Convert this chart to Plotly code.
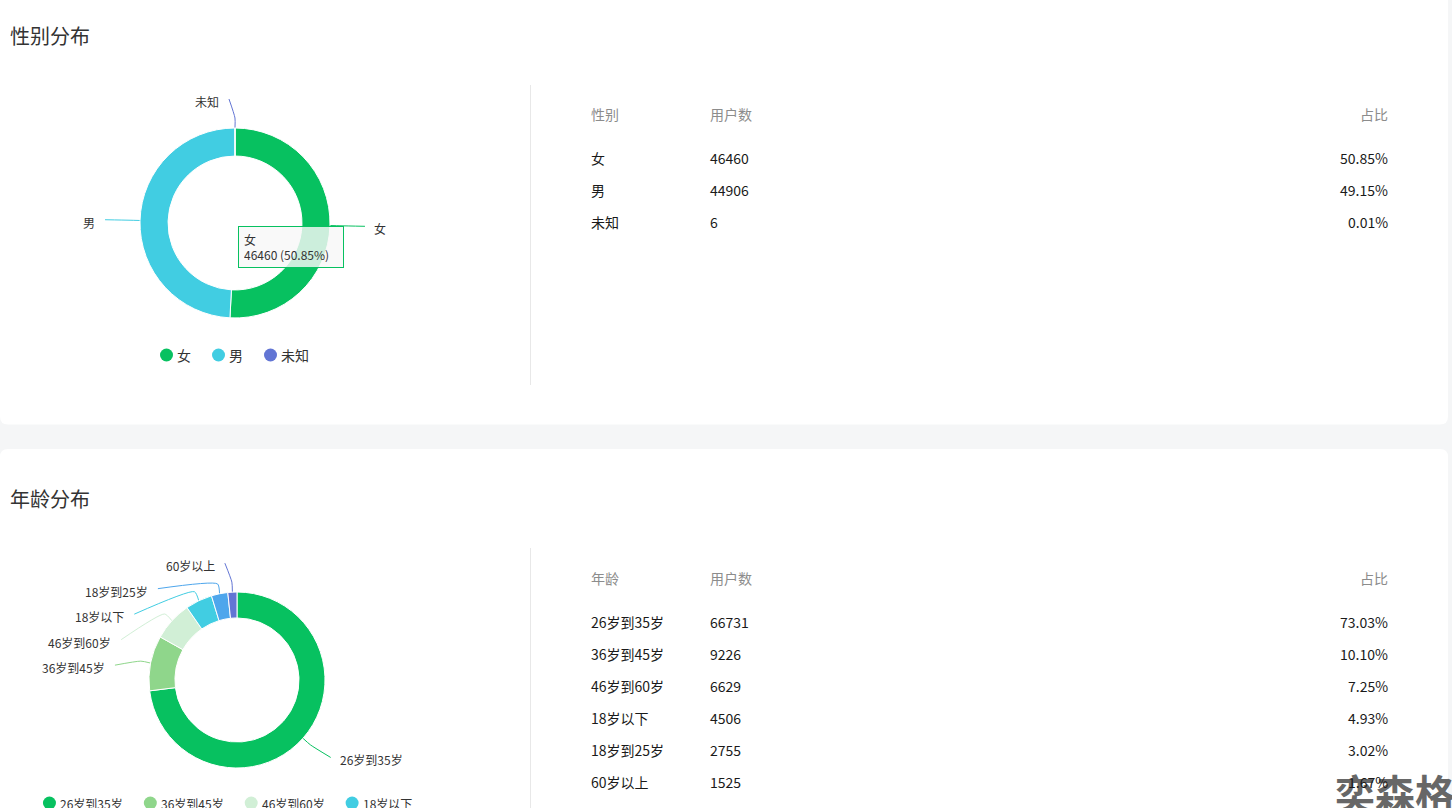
import math
import plotly.graph_objects as go

W, H = 1452, 808
FONT = "Noto Sans CJK SC, Microsoft YaHei, sans-serif"

# ---------------- data ----------------
section_titles = ["性别分布", "年龄分布"]

gender_headers = ["性别", "用户数", "占比"]
gender_labels = ["女", "男", "未知"]
gender_values = [46460, 44906, 6]
gender_colors = ["#07c160", "#41cde2", "#6275d4"]

age_headers = ["年龄", "用户数", "占比"]
age_labels = ["26岁到35岁", "36岁到45岁", "46岁到60岁", "18岁以下", "18岁到25岁", "60岁以上"]
age_values = [66731, 9226, 6629, 4506, 2755, 1525]
age_colors = ["#07c160", "#8fd68b", "#d1efd6", "#41cde2", "#4ea6ec", "#6275d4"]

tooltip_index = 0
watermark = "奕森格"

# ---------------- layout constants ----------------
BG = "#f5f6f7"
TXT = "#333333"
HEAD = "#8c8c8c"
LEN1, LEN2, GAP, BEND = 29, 6, 25.5, 10
LPAD, RPAD = 3, 2   # annotation inner offsets (left / right anchored)


def pct(values):
    t = sum(values)
    return [f"{v / t * 100:.2f}%" for v in values]


def text_w(s, fs):
    w = 0
    for ch in s:
        if ord(ch) > 0x2E80:
            w += fs
        elif ch == ".":
            w += fs * 0.27
        elif ch == "%":
            w += fs * 0.85
        else:
            w += fs * 0.56
    return w


fig = go.Figure()
shapes = []
annots = []


def txt(x, y, text, size, color, anchor="left", **kw):
    if anchor == "left":
        x = x - LPAD
    elif anchor == "right":
        x = x + RPAD
    d = dict(x=x, y=y, xref="x", yref="y", xanchor=anchor, yanchor="middle", text=text,
             showarrow=False, font=dict(family=FONT, size=size, color=color))
    d.update(kw)
    annots.append(d)


def rounded(x0, y0, x1, y1, r):
    return (f"M{x0 + r},{y0} L{x1 - r},{y0} Q{x1},{y0} {x1},{y0 + r} L{x1},{y1 - r} "
            f"Q{x1},{y1} {x1 - r},{y1} L{x0 + r},{y1} Q{x0},{y1} {x0},{y1 - r} "
            f"L{x0},{y0 + r} Q{x0},{y0} {x0 + r},{y0} Z")


# cards
for (y0, y1) in [(-10, 424.5), (449, 830)]:
    shapes.append(dict(type="path", path=rounded(0, y0, 1448, y1, 8), xref="x", yref="y",
                       fillcolor="white", line=dict(width=0), layer="below"))
# dividers
for (y0, y1) in [(85, 385), (548, 830)]:
    shapes.append(dict(type="line", x0=530.5, x1=530.5, y0=y0, y1=y1, xref="x", yref="y",
                       line=dict(color="#e8e8e8", width=1), layer="below"))

# watermark (drawn first so other text sits on top)
annots.append(dict(x=1457 / W, y=1 - 792 / H, xref="paper", yref="paper", xanchor="right",
                   yanchor="middle", text=f"<b>{watermark}</b>", showarrow=False,
                   font=dict(family=FONT, size=40, color="#676767")))


def add_section(title, title_y, headers, labels, values, colors, cx, cy, R,
                head_y, row0, legend_y, legend_fs, legend_cx):
    txt(11, title_y, title, 20, TXT)
    # donut
    fig.add_trace(go.Pie(
        labels=labels, values=values, sort=False, direction="clockwise", rotation=0,
        hole=0.705, textinfo="none", showlegend=False,
        marker=dict(colors=colors, line=dict(color="white", width=1)),
        domain=dict(x=[(cx - R) / W, (cx + R) / W], y=[1 - (cy + R) / H, 1 - (cy - R) / H]),
        hovertemplate="%{label}<br>%{value} (%{percent})<extra></extra>"))

    # outside labels with leader lines (ECharts-like layout)
    total = sum(values)
    rA = R + LEN1
    items = []
    cum = 0
    for i, v in enumerate(values):
        a = (cum + v / 2) / total * 2 * math.pi
        cum += v
        s, c = math.sin(a), math.cos(a)
        p0 = (cx + R * s, cy - R * c)
        pb = (cx + (R + BEND) * s, cy - (R + BEND) * c)
        p1 = (cx + rA * s, cy - rA * c)
        items.append(dict(i=i, p0=p0, pb=pb, p1=p1, y=p1[1], side=1 if s >= 0 else -1))
    for side in (1, -1):
        grp = sorted([it for it in items if it["side"] == side], key=lambda it: it["y"])
        for a_, b_ in zip(grp, grp[1:]):
            if b_["y"] < a_["y"] + GAP:
                b_["y"] = a_["y"] + GAP
        for top in (True, False):
            semi = [it for it in grp if (it["y"] <= cy) == top]
            if not semi:
                continue
            far = max(semi, key=lambda it: abs(it["y"] - cy))
            dy = abs(far["y"] - cy)
            dx = abs(far["p1"][0] - cx)
            rB = math.sqrt(dy * dy / (1 - dx * dx / rA / rA)) if dx < rA - 1e-6 else rA
            rB = max(rB, 1e-6)
            for it in semi:
                dyi = abs(it["y"] - cy)
                dxi = math.sqrt(max(0.0, 1 - dyi * dyi / (rB * rB))) * rA
                it["end"] = (cx + side * (dxi + LEN2), it["y"])
    for it in items:
        p0, pb, end = it["p0"], it["pb"], it["end"]
        col = colors[it["i"]]
        fig.add_trace(go.Scatter(x=[p0[0], pb[0], end[0]], y=[p0[1], pb[1], end[1]],
                                 mode="lines", line=dict(color=col, width=1, shape="spline", smoothing=0.6),
                                 hoverinfo="skip", showlegend=False))
        side = it["side"]
        txt(end[0] + side * 10, end[1] + 2.5, labels[it["i"]], 12, TXT,
            anchor="left" if side > 0 else "right")

    # legend (circle icons, centred rows under the donut)
    gap_item, icon, icon_gap = 20, 13, 5
    widths = [icon + icon_gap + text_w(l, legend_fs) for l in labels]
    rows, cur, curw = [], [], 0
    for k, w in enumerate(widths):
        add = w if not cur else w + gap_item
        if cur and curw + add > 430:
            rows.append(cur)
            cur, curw = [], 0
            add = w
        cur.append(k)
        curw += add
    rows.append(cur)
    for r_i, row in enumerate(rows):
        rw = sum(widths[k] for k in row) + gap_item * (len(row) - 1)
        x = legend_cx - rw / 2
        ly = legend_y + r_i * 24
        xs, ys, cs = [], [], []
        for k in row:
            xs.append(x + icon / 2)
            ys.append(ly)
            cs.append(colors[k])
            txt(x + icon + icon_gap, ly, labels[k], legend_fs, TXT)
            x += widths[k] + gap_item
        fig.add_trace(go.Scatter(x=xs, y=ys, mode="markers",
                                 marker=dict(size=icon, color=cs, line=dict(width=0)),
                                 hoverinfo="skip", showlegend=False, cliponaxis=False))

    # table
    col_x = [592, 711, 1388]
    for j, h in enumerate(headers):
        txt(col_x[j], head_y, h, 14, HEAD, anchor="right" if j == 2 else "left")
    ps = pct(values)
    for i, (l, v, p) in enumerate(zip(labels, values, ps)):
        y = row0 + i * 32
        for j, t in enumerate([l, str(v), p]):
            txt(col_x[j], y, t, 14, "#1a1a1a", anchor="right" if j == 2 else "left")
    return items


add_section(section_titles[0], 35, gender_headers, gender_labels, gender_values, gender_colors,
            235, 223, 95, 114, 158, 355, 14, 235)
add_section(section_titles[1], 498, age_headers, age_labels, age_values, age_colors,
            237, 680, 88, 578, 622, 803, 12, 228)

# hover tooltip captured in the screenshot
tp = pct(gender_values)[tooltip_index]
annots.append(dict(x=238, y=226, xref="x", yref="y", xanchor="left", yanchor="top",
                   text=f"{gender_labels[tooltip_index]}<br>{gender_values[tooltip_index]} ({tp})",
                   align="left", valign="middle", width=94, height=30,
                   showarrow=False, bgcolor="rgba(248,248,248,0.82)",
                   bordercolor=gender_colors[tooltip_index], borderwidth=1, borderpad=5,
                   font=dict(family=FONT, size=12, color=TXT)))

fig.update_layout(
    width=W, height=H, margin=dict(l=0, r=0, t=0, b=0),
    paper_bgcolor=BG, plot_bgcolor=BG,
    xaxis=dict(range=[0, W], visible=False, fixedrange=True),
    yaxis=dict(range=[H, 0], visible=False, fixedrange=True),
    shapes=shapes, annotations=annots, showlegend=False,
    font=dict(family=FONT),
)

fig.write_html("out.html", config={"displayModeBar": False},
               post_script="document.body.style.margin='0';document.body.style.overflow='hidden';")
